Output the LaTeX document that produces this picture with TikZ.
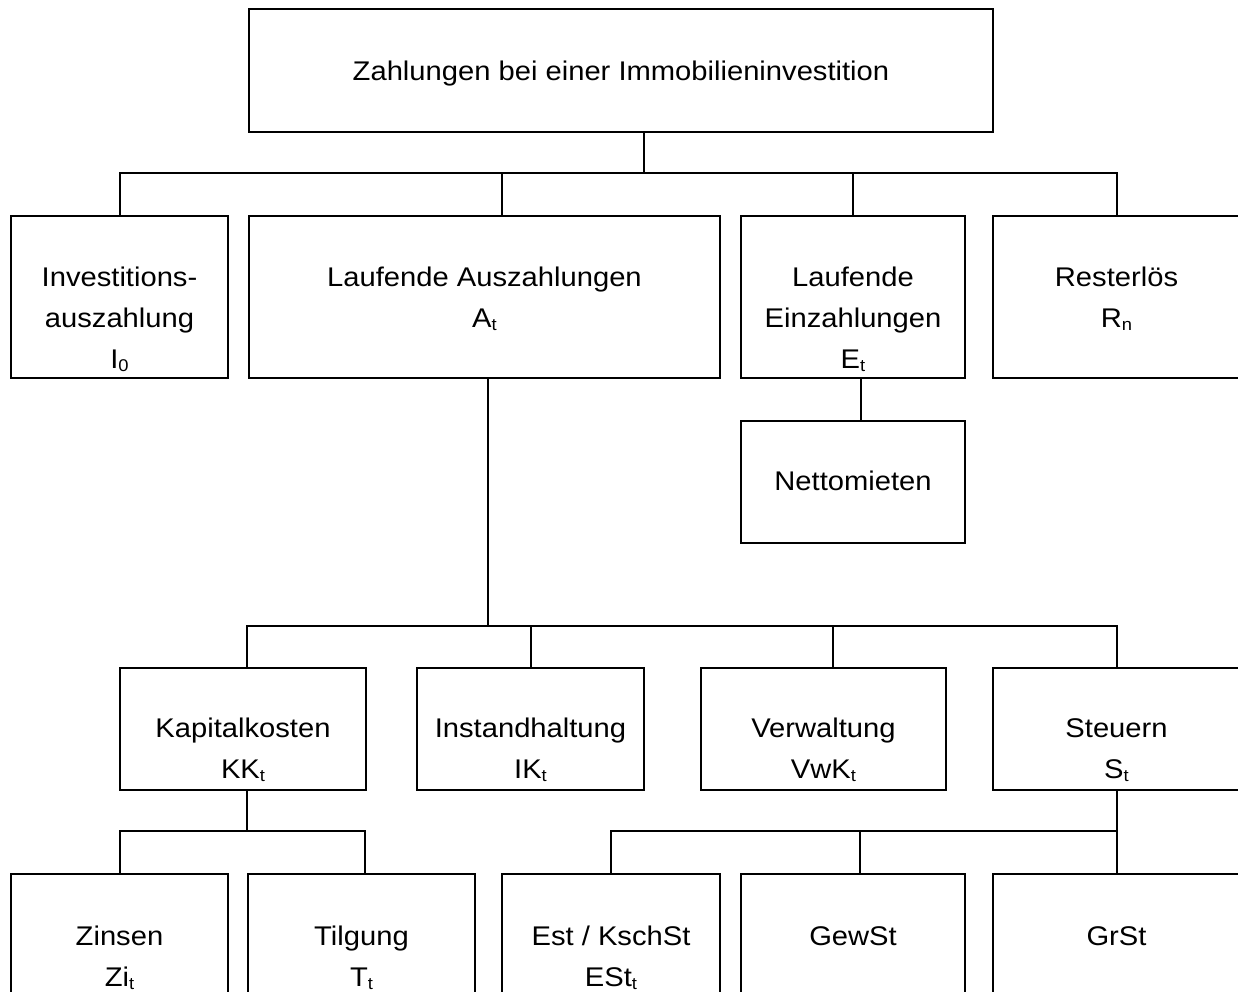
\documentclass[tikz,border=0pt]{standalone}
\usepackage{fontspec}
\setmainfont[FakeStretch=1.08]{Liberation Sans}
\newcommand\fl{\rule{0pt}{22pt}}
\newcommand\sbt[1]{\raisebox{-3.5pt}{\fontsize{17}{17}\selectfont #1}}
\begin{document}
\begin{tikzpicture}[x=1pt,y=-1pt,line width=2pt,
  box/.style 2 args={draw,line width=2pt,inner sep=0pt,minimum width=#1,minimum height=#2},
  lbl/.style={align=center,inner sep=0pt,anchor=north,font=\fontsize{27}{41}\selectfont},
  conn/.style={draw,line width=2pt}]
\useasboundingbox (0,0) rectangle (1238,991);
\clip (0,0) rectangle (1238,991);
% boxes
\node[box={744pt}{123pt}] (top) at (621,70.5) {};
\node[box={217pt}{162pt}] (inv) at (119.5,297) {};
\node[box={471pt}{162pt}] (ausz) at (484.5,297) {};
\node[box={224pt}{162pt}] (einz) at (853,297) {};
\node[box={247pt}{162pt}] (rest) at (1116.5,297) {};
\node[box={224pt}{122pt}] (netto) at (853,482) {};
\node[box={246pt}{122pt}] (kk) at (243,729) {};
\node[box={227pt}{122pt}] (inst) at (530.5,729) {};
\node[box={245pt}{122pt}] (verw) at (823.5,729) {};
\node[box={247pt}{122pt}] (steu) at (1116.5,729) {};
\node[box={217pt}{132pt}] (zins) at (119.5,940) {};
\node[box={227pt}{132pt}] (tilg) at (361.5,940) {};
\node[box={218pt}{132pt}] (est) at (611,940) {};
\node[box={224pt}{132pt}] (gew) at (853,940) {};
\node[box={247pt}{132pt}] (grst) at (1116.5,940) {};
% texts
\node[lbl] (ttop) at (621,57) {\fl Zahlungen bei einer Immobilieninvestition};
\node[lbl] (tinv) at (119.5,263) {\fl Investitions-\\auszahlung\\I\sbt{0}};
\node[lbl] (tausz) at (484.5,263) {\fl Laufende Auszahlungen\\A\sbt{t}};
\node[lbl] (teinz) at (853,263) {\fl Laufende\\Einzahlungen\\E\sbt{t}};
\node[lbl] (trest) at (1116.5,263) {\fl Resterlös\\R\sbt{n}};
\node[lbl] (tnetto) at (853,467) {\fl Nettomieten};
\node[lbl] (tkk) at (243,714) {\fl Kapitalkosten\\KK\sbt{t}};
\node[lbl] (tinst) at (530.5,714) {\fl Instandhaltung\\IK\sbt{t}};
\node[lbl] (tverw) at (823.5,714) {\fl Verwaltung\\VwK\sbt{t}};
\node[lbl] (tsteu) at (1116.5,714) {\fl Steuern\\S\sbt{t}};
\node[lbl] (tzins) at (119.5,922) {\fl Zinsen\\Zi\sbt{t}};
\node[lbl] (ttilg) at (361.5,922) {\fl Tilgung\\T\sbt{t}};
\node[lbl] (test) at (611,922) {\fl Est / KschSt\\ESt\sbt{t}};
\node[lbl] (tgew) at (853,922) {\fl GewSt};
\node[lbl] (tgrst) at (1116.5,922) {\fl GrSt};
% connectors
\coordinate (bus1) at (644,173);
\coordinate (bus2) at (488,626);
\coordinate (bus3) at (247,831);
\coordinate (bus4) at (1116.5,831);
\draw[conn] ([xshift=23pt]top.south) -- (bus1);
\draw[conn] (inv.north) |- (bus1) -| (rest.north);
\draw[conn] ([xshift=17.5pt]ausz.north) -- ([xshift=17.5pt]ausz.north |- bus1);
\draw[conn] (einz.north) -- (einz.north |- bus1);
\draw[conn] ([xshift=8pt]einz.south) -- ([xshift=8pt]netto.north);
\draw[conn] ([xshift=3.5pt]ausz.south) -- (bus2);
\draw[conn] ([xshift=4pt]kk.north) |- (bus2) -| (steu.north);
\draw[conn] ([xshift=0.5pt]inst.north) -- ([xshift=0.5pt]inst.north |- bus2);
\draw[conn] ([xshift=9.5pt]verw.north) -- ([xshift=9.5pt]verw.north |- bus2);
\draw[conn] ([xshift=4pt]kk.south) -- (bus3);
\draw[conn] (zins.north) |- (bus3) -| ([xshift=3.5pt]tilg.north);
\draw[conn] (steu.south) -- (bus4);
\draw[conn] (est.north) |- (bus4) -- (grst.north);
\draw[conn] ([xshift=7pt]gew.north) -- ([xshift=7pt]gew.north |- bus4);
\end{tikzpicture}
\end{document}
